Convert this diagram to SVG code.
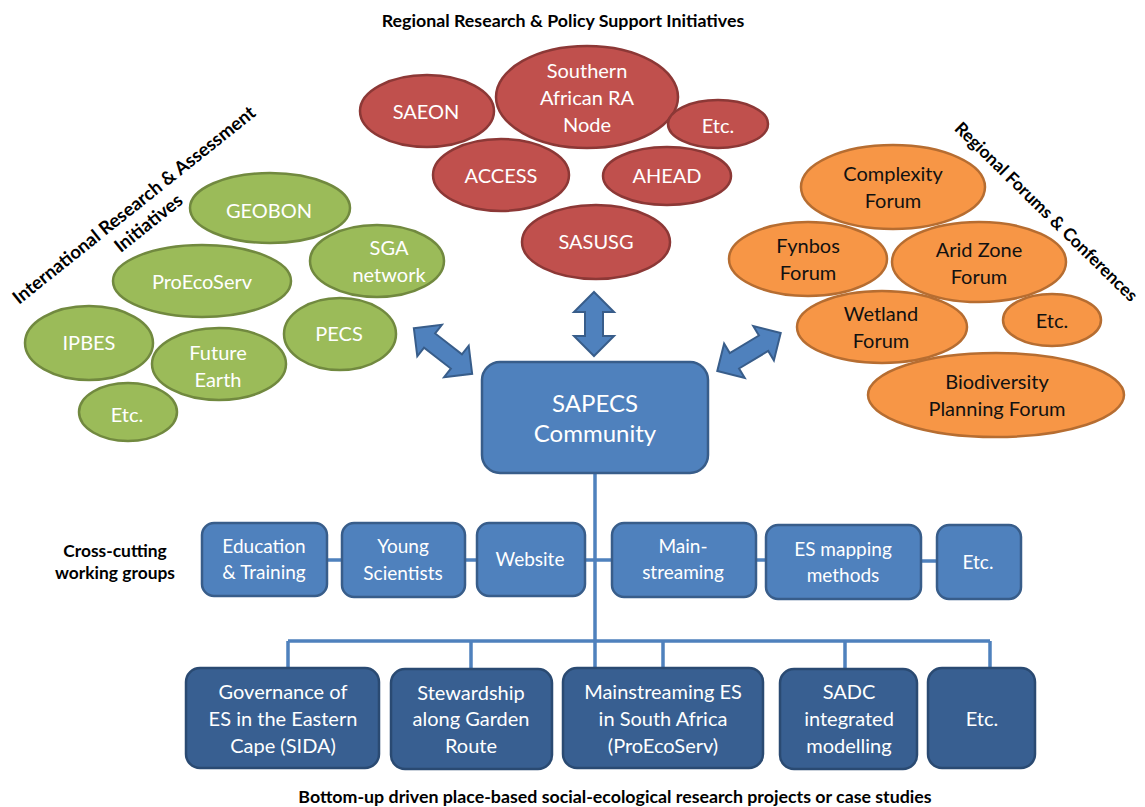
<svg xmlns="http://www.w3.org/2000/svg" width="1145" height="807" viewBox="0 0 1145 807">
<style>
text{font-family:Lato,"Open Sans","Liberation Sans",sans-serif;text-anchor:middle}
.t{font-weight:bold;font-size:17.8px;fill:#000}
.rt{font-weight:bold;font-size:18.5px;fill:#000}
.g{fill:#9BBB59;stroke:#71893F;stroke-width:2.5}
.r{fill:#C0504D;stroke:#8C3836;stroke-width:2.5}
.o{fill:#F79646;stroke:#B66D31;stroke-width:2.5}
.wl{fill:#fff;font-size:20px}
.bl{fill:#111;font-size:20px}
.mb{fill:#4F81BD;stroke:#385D8A;stroke-width:2.5}
.bb{fill:#385F91;stroke:#2A4A72;stroke-width:2.5}
.bt{fill:#fff;font-size:19px}
.ct{fill:#fff;font-size:20px}
.arr{fill:#4F81BD;stroke:#385D8A;stroke-width:2}
.ln{stroke:#4F81BD;stroke-width:3.5;fill:none}
</style>

<text class="t" x="563" y="27">Regional Research &amp; Policy Support Initiatives</text>
<text class="rt" transform="translate(138,210) rotate(-38.6)"><tspan x="0" y="0">International Research &amp; Assessment</tspan><tspan x="0" y="23">Initiatives</tspan></text>
<text class="rt" transform="translate(1042,216) rotate(44.4)" style="font-size:17.5px">Regional Forums &amp; Conferences</text>
<text class="t" style="font-size:17.4px"><tspan x="115" y="557">Cross-cutting</tspan><tspan x="115" y="579">working groups</tspan></text>
<text class="t" x="615" y="803">Bottom-up driven place-based social-ecological  research projects or case studies</text>

<g id="connectors">
<path class="ln" d="M595 473 V668 M288 641 H990 M288 641 V668 M471 641 V668 M663 641 V668 M845 641 V668 M990 641 V668 M327 560 H342 M465 560 H477 M585 560 H612 M756 560 H766 M921 561 H937"/>
<path class="arr" transform="translate(594,324) rotate(90)" d="M-32 0 L-12 -20 L-12 -9 L12 -9 L12 -20 L32 0 L12 20 L12 9 L-12 9 L-12 20 Z"/>
<path class="arr" transform="translate(443,351) rotate(38)" d="M-37 0 L-17 -20 L-17 -9 L17 -9 L17 -20 L37 0 L17 20 L17 9 L-17 9 L-17 20 Z"/>
<path class="arr" transform="translate(749,352) rotate(-31)" d="M-37 0 L-17 -20 L-17 -9 L17 -9 L17 -20 L37 0 L17 20 L17 9 L-17 9 L-17 20 Z"/>
</g>

<g id="geobon"><ellipse class="g" cx="270" cy="208" rx="80" ry="35"/><text class="wl" x="269" y="218">GEOBON</text></g>
<g id="sga"><ellipse class="g" cx="377" cy="261" rx="67" ry="36"/><text class="wl"><tspan x="389" y="255">SGA</tspan><tspan x="389" y="282">network</tspan></text></g>
<g id="proecoserv"><ellipse class="g" cx="202" cy="281" rx="89" ry="36"/><text class="wl" x="202" y="289">ProEcoServ</text></g>
<g id="ipbes"><ellipse class="g" cx="89" cy="343" rx="64" ry="37"/><text class="wl" x="89" y="350">IPBES</text></g>
<g id="futureearth"><ellipse class="g" cx="219" cy="364" rx="67" ry="36"/><text class="wl"><tspan x="218" y="360">Future</tspan><tspan x="218" y="387">Earth</tspan></text></g>
<g id="pecs"><ellipse class="g" cx="340" cy="334" rx="56" ry="36"/><text class="wl" x="339" y="341">PECS</text></g>
<g id="green-etc"><ellipse class="g" cx="128" cy="412" rx="49" ry="29"/><text class="wl" x="127" y="422">Etc.</text></g>

<g id="saeon"><ellipse class="r" cx="427" cy="111" rx="67" ry="36"/><text class="wl" x="426" y="119">SAEON</text></g>
<g id="sara"><ellipse class="r" cx="587" cy="97" rx="91" ry="51"/><text class="wl"><tspan x="587" y="78">Southern</tspan><tspan x="587" y="105">African RA</tspan><tspan x="587" y="132">Node</tspan></text></g>
<g id="red-etc"><ellipse class="r" cx="718" cy="124" rx="50" ry="24"/><text class="wl" x="718" y="133">Etc.</text></g>
<g id="access"><ellipse class="r" cx="501" cy="175" rx="68" ry="36"/><text class="wl" x="501" y="183">ACCESS</text></g>
<g id="ahead"><ellipse class="r" cx="667" cy="176" rx="64" ry="29"/><text class="wl" x="667" y="183">AHEAD</text></g>
<g id="sasusg"><ellipse class="r" cx="596" cy="242" rx="74" ry="37"/><text class="wl" x="596" y="249">SASUSG</text></g>

<g id="complexity"><ellipse class="o" cx="893" cy="187" rx="92" ry="42"/><text class="bl"><tspan x="893" y="181">Complexity</tspan><tspan x="893" y="208">Forum</tspan></text></g>
<g id="fynbos"><ellipse class="o" cx="808" cy="259" rx="79" ry="37"/><text class="bl"><tspan x="808" y="253">Fynbos</tspan><tspan x="808" y="280">Forum</tspan></text></g>
<g id="aridzone"><ellipse class="o" cx="979" cy="262" rx="87" ry="40"/><text class="bl"><tspan x="979" y="257">Arid Zone</tspan><tspan x="979" y="284">Forum</tspan></text></g>
<g id="wetland"><ellipse class="o" cx="882" cy="327" rx="85" ry="36"/><text class="bl"><tspan x="881" y="321">Wetland</tspan><tspan x="881" y="348">Forum</tspan></text></g>
<g id="orange-etc"><ellipse class="o" cx="1052" cy="320" rx="49" ry="26"/><text class="bl" x="1052" y="328">Etc.</text></g>
<g id="biodiversity"><ellipse class="o" cx="996" cy="395" rx="128" ry="42"/><text class="bl"><tspan x="997" y="389">Biodiversity</tspan><tspan x="997" y="416">Planning Forum</tspan></text></g>

<g id="sapecs"><rect class="mb" x="482" y="362" width="226" height="111" rx="18"/><text fill="#fff" font-size="24"><tspan x="595" y="412">SAPECS</tspan><tspan x="595" y="442">Community</tspan></text></g>

<g id="education"><rect class="mb" x="202" y="523" width="125" height="73" rx="12"/><text class="bt"><tspan x="264" y="553">Education</tspan><tspan x="264" y="579">&amp; Training</tspan></text></g>
<g id="young"><rect class="mb" x="342" y="523" width="123" height="74" rx="12"/><text class="bt"><tspan x="403" y="553">Young</tspan><tspan x="403" y="580">Scientists</tspan></text></g>
<g id="website"><rect class="mb" x="477" y="523" width="108" height="73" rx="12"/><text class="bt" x="530" y="566">Website</text></g>
<g id="mainstreaming"><rect class="mb" x="612" y="523" width="144" height="74" rx="12"/><text class="bt"><tspan x="683" y="553">Main-</tspan><tspan x="683" y="579">streaming</tspan></text></g>
<g id="esmapping"><rect class="mb" x="766" y="525" width="155" height="74" rx="12"/><text class="bt"><tspan x="843" y="556">ES mapping</tspan><tspan x="843" y="582">methods</tspan></text></g>
<g id="wg-etc"><rect class="mb" x="937" y="525" width="84" height="74" rx="12"/><text class="bt" x="978" y="569">Etc.</text></g>

<g id="governance"><rect class="bb" x="186" y="668" width="193" height="100" rx="14"/><text class="ct"><tspan x="283" y="699">Governance  of</tspan><tspan x="283" y="726">ES in the Eastern</tspan><tspan x="283" y="753">Cape (SIDA)</tspan></text></g>
<g id="stewardship"><rect class="bb" x="391" y="669" width="161" height="100" rx="14"/><text class="ct"><tspan x="471" y="700">Stewardship</tspan><tspan x="471" y="726">along Garden</tspan><tspan x="471" y="753">Route</tspan></text></g>
<g id="mainstreamingES"><rect class="bb" x="563" y="668" width="200" height="100" rx="14"/><text class="ct"><tspan x="663" y="699">Mainstreaming ES</tspan><tspan x="663" y="726">in South Africa</tspan><tspan x="663" y="753">(ProEcoServ)</tspan></text></g>
<g id="sadc"><rect class="bb" x="780" y="669" width="137" height="100" rx="14"/><text class="ct"><tspan x="849" y="699">SADC</tspan><tspan x="849" y="726">integrated</tspan><tspan x="849" y="753">modelling</tspan></text></g>
<g id="proj-etc"><rect class="bb" x="928" y="668" width="107" height="100" rx="14"/><text class="ct" x="982" y="726">Etc.</text></g>
</svg>
